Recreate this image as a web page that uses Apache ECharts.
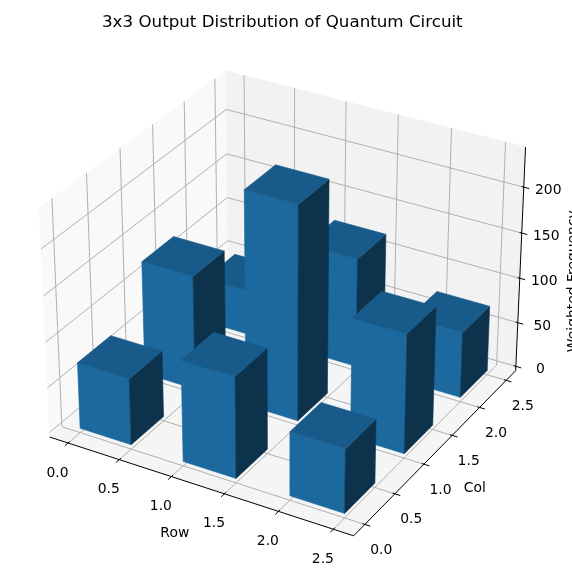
<!DOCTYPE html>
<html>
<head>
<meta charset="utf-8">
<title>3x3 Output Distribution of Quantum Circuit</title>
<script src="https://cdn.jsdelivr.net/npm/echarts@6/dist/echarts.min.js"></script>
<style>
  html, body { margin: 0; padding: 0; background: #fff; }
  #chart { width: 572px; height: 581px; }
</style>
</head>
<body>
<div id="chart"></div>
<script>
// ---- data ----
const rows = [0, 1, 2];
const cols = [0, 1, 2];
// weighted frequency, freq[row][col]
const freq = [
  [73, 126, 50],
  [111, 235, 121],
  [70, 131, 73]
];
const barSize = 0.5;
const xyTicks = [0, 0.5, 1, 1.5, 2, 2.5];
const zTicks = [0, 50, 100, 150, 200];

// ---- 3d view, like matplotlib's default camera ----
const xLim = [-0.125, 2.625], yLim = [-0.125, 2.625], zLim = [0, 238];
const elev = 30, azim = -60, dist = 10;
const aspect = [1.143, 1.143, 0.857];
const SCALE = 3048, CX = 286.8, CY = 292.5, W = 572, H = 581;

const pad = lim => { const p = (lim[1] - lim[0]) / 48; return [lim[0] - p, lim[1] + p]; };
const XB = pad(xLim), YB = pad(yLim), ZB = pad(zLim);
const e = elev * Math.PI / 180, a = azim * Math.PI / 180;
const wv = [Math.cos(e) * Math.cos(a), Math.cos(e) * Math.sin(a), Math.sin(e)];
const uv = [-Math.sin(a), Math.cos(a), 0];
const vv = [-Math.sin(e) * Math.cos(a), -Math.sin(e) * Math.sin(a), Math.cos(e)];
const eye = aspect.map((s, i) => s / 2 + dist * wv[i]);

function project(x, y, z) {
  const P = [
    (x - XB[0]) / (XB[1] - XB[0]) * aspect[0],
    (y - YB[0]) / (YB[1] - YB[0]) * aspect[1],
    (z - ZB[0]) / (ZB[1] - ZB[0]) * aspect[2]
  ];
  const d = P.map((p, i) => p - eye[i]);
  const dot = q => q[0] * d[0] + q[1] * d[1] + q[2] * d[2];
  const depth = -dot(wv);
  return [dot(uv) / depth, dot(vv) / depth, depth];
}

const FONT = '"DejaVu Sans", sans-serif';
const GRID = '#b0b0b0';
const TOP = 'rgb(24,91,138)', FRONT = 'rgb(27,105,159)', SIDE = 'rgb(13,50,75)';

function makePt(api) {
  return (x, y, z) => { const p = project(x, y, z); return api.coord([p[0], p[1]]); };
}

// panes, grid, axis lines, ticks and labels
function frameItem(params, api) {
  const pt = makePt(api);
  const ch = [];
  const poly = (pts, fill) => ch.push({ type: 'polygon', shape: { points: pts }, style: { fill: fill, stroke: fill, lineWidth: 0.5 } });
  const line = (pts, color, w) => ch.push({ type: 'polyline', shape: { points: pts }, style: { stroke: color, lineWidth: w, fill: null } });
  const text = (p, dx, dy, s, rot) => ch.push({
    type: 'text', x: p[0] + dx, y: p[1] + dy, rotation: rot || 0,
    style: { text: s, fill: '#000', font: '13.9px ' + FONT, align: 'center', verticalAlign: 'middle' }
  });

  // panes
  poly([pt(XB[0], YB[0], ZB[0]), pt(XB[0], YB[1], ZB[0]), pt(XB[0], YB[1], ZB[1]), pt(XB[0], YB[0], ZB[1])], '#f9f9f9');
  poly([pt(XB[0], YB[1], ZB[0]), pt(XB[1], YB[1], ZB[0]), pt(XB[1], YB[1], ZB[1]), pt(XB[0], YB[1], ZB[1])], '#f2f2f2');
  poly([pt(XB[0], YB[0], ZB[0]), pt(XB[1], YB[0], ZB[0]), pt(XB[1], YB[1], ZB[0]), pt(XB[0], YB[1], ZB[0])], '#f5f5f5');

  // grid
  xyTicks.forEach(t => {
    line([pt(t, YB[0], ZB[0]), pt(t, YB[1], ZB[0]), pt(t, YB[1], ZB[1])], GRID, 1);
    line([pt(XB[1], t, ZB[0]), pt(XB[0], t, ZB[0]), pt(XB[0], t, ZB[1])], GRID, 1);
  });
  zTicks.forEach(t => {
    line([pt(XB[0], YB[0], t), pt(XB[0], YB[1], t), pt(XB[1], YB[1], t)], GRID, 1);
  });

  // axis lines
  line([pt(XB[0], YB[0], ZB[0]), pt(XB[1], YB[0], ZB[0])], '#000', 1);
  line([pt(XB[1], YB[0], ZB[0]), pt(XB[1], YB[1], ZB[0])], '#000', 1);
  line([pt(XB[1], YB[1], ZB[0]), pt(XB[1], YB[1], ZB[1])], '#000', 1);

  // ticks + labels
  xyTicks.forEach(t => {
    line([pt(t, YB[0] + 0.025, ZB[0]), pt(t, YB[0] - 0.05, ZB[0])], '#000', 1);
    text(pt(t, YB[0], ZB[0]), -10.5, 30, t.toFixed(1));
    line([pt(XB[1] - 0.02, t, ZB[0]), pt(XB[1] + 0.05, t, ZB[0])], '#000', 1);
    text(pt(XB[1], t, ZB[0]), 16.5, 26, t.toFixed(1));
  });
  zTicks.forEach(t => {
    line([pt(XB[1] - 0.02, YB[1], t), pt(XB[1] + 0.05, YB[1], t)], '#000', 1);
    text(pt(XB[1], YB[1], t), 24.5, 3.5, String(t));
  });

  // axis names
  const xm = (xLim[0] + xLim[1]) / 2, ym = (yLim[0] + yLim[1]) / 2, zm = (zLim[0] + zLim[1]) / 2;
  text(pt(xm, YB[0], ZB[0]), -23, 48.6, 'Row');
  text(pt(XB[1], ym, ZB[0]), 36.7, 39, 'Col');
  text(pt(XB[1], YB[1], zm), 53, 20, 'Weighted Frequency', Math.PI / 2);

  return { type: 'group', children: ch };
}

function barItem(params, api) {
  const pt = makePt(api);
  const r = api.value(0), c = api.value(1), h = api.value(2);
  const x0 = r, x1 = r + barSize, y0 = c, y1 = c + barSize;
  const z2 = params.dataIndex * 3;
  const face = (pts, fill, k) => ({ type: 'polygon', z2: z2 + k, shape: { points: pts }, style: { fill: fill, stroke: fill, lineWidth: 0.6 } });
  return {
    type: 'group',
    children: [
      face([pt(x0, y0, 0), pt(x1, y0, 0), pt(x1, y0, h), pt(x0, y0, h)], FRONT, 0),
      face([pt(x1, y0, 0), pt(x1, y1, 0), pt(x1, y1, h), pt(x1, y0, h)], SIDE, 1),
      face([pt(x0, y0, h), pt(x1, y0, h), pt(x1, y1, h), pt(x0, y1, h)], TOP, 2)
    ]
  };
}

// bars, farthest first
const barData = [];
rows.forEach(r => cols.forEach(c => barData.push([r, c, freq[r][c]])));
barData.sort((p, q) =>
  project(q[0] + barSize / 2, q[1] + barSize / 2, q[2] / 2)[2] -
  project(p[0] + barSize / 2, p[1] + barSize / 2, p[2] / 2)[2]);

const chart = echarts.init(document.getElementById('chart'));
chart.setOption({
  animation: false,
  backgroundColor: '#fff',
  title: {
    text: '3x3 Output Distribution of Quantum Circuit',
    left: 97, top: 9,
    textStyle: { fontFamily: FONT, fontSize: 16.7, fontWeight: 'normal', color: '#000' }
  },
  grid: { left: 0, right: 0, top: 0, bottom: 0 },
  xAxis: { type: 'value', min: -CX / SCALE, max: (W - CX) / SCALE, show: false },
  yAxis: { type: 'value', min: (CY - H) / SCALE, max: CY / SCALE, show: false },
  series: [
    { type: 'custom', silent: true, z: 1, data: [0], renderItem: frameItem },
    { type: 'custom', silent: true, z: 2, data: barData, renderItem: barItem }
  ]
});
</script>
</body>
</html>
